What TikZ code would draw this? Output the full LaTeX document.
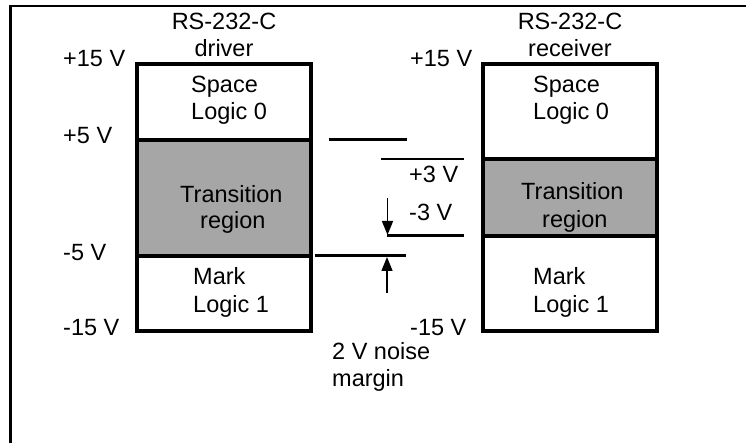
\documentclass[tikz,border=0pt]{standalone}
\usepackage{fontspec}
\setmainfont{Liberation Sans}
\usetikzlibrary{arrows.meta}
\begin{document}
\begin{tikzpicture}[x=1pt,y=-1pt,
  lbl/.style={anchor=base west, inner sep=0pt, font=\fontsize{23.5}{28}\selectfont},
  clbl/.style={anchor=base, inner sep=0pt, font=\fontsize{23.5}{28}\selectfont},
  zone/.style={draw, line width=4pt, minimum width=174pt, inner sep=0pt, outer sep=0pt, anchor=center},
  trans/.style={zone, fill=black!35},
  level/.style={line width=3pt},
  thinlevel/.style={line width=2pt},
  arr/.style={line width=1.5pt, -{Triangle[length=14pt,width=11pt]}},
  frame/.style={line width=2.5pt}]
\useasboundingbox (0,0) rectangle (747,443);
% frame
\coordinate (fbl) at (10.5,443);
\coordinate (ftl) at (10.5,6);
\coordinate (ftr) at (746,6);
\draw[frame] (fbl) -- (ftl) -- (ftr);
% driver box
\node[zone, minimum height=76pt] (dspace) at (224,102) {};
\node[trans, minimum height=116pt] (dtrans) at (224,198) {};
\node[zone, minimum height=75pt] (dmark) at (224,293.5) {};
% receiver box
\node[zone, minimum height=95.5pt] (rspace) at (570,111.75) {};
\node[trans, minimum height=77pt] (rtrans) at (570,198) {};
\node[zone, minimum height=94.5pt] (rmark) at (570,283.75) {};
% headings
\node[clbl] (dh1) at (224,30) {RS-232-C};
\node[clbl] (dh2) at (224,57) {driver};
\node[clbl] (rh1) at (570,30) {RS-232-C};
\node[clbl] (rh2) at (570,57) {receiver};
% voltage labels driver
\node[lbl] (v15) at (63,67) {+15 V};
\node[lbl] (v5) at (63,144) {+5 V};
\node[lbl] (vm5) at (63,261) {-5 V};
\node[lbl] (vm15) at (63,336) {-15 V};
% voltage labels receiver
\node[lbl] (r15) at (410,67) {+15 V};
\node[lbl] (rm15) at (410,336) {-15 V};
\node[lbl] (r3) at (409,183) {+3 V};
\node[lbl] (rm3) at (409,221) {-3 V};
% box texts driver
\node[lbl] (dt1) at (191,93) {Space};
\node[lbl] (dt2) at (191,120) {Logic 0};
\node[lbl] (dt3) at (180,203) {Transition};
\node[lbl] (dt4) at (200,229) {region};
\node[lbl] (dt5) at (193,285) {Mark};
\node[lbl] (dt6) at (193,313) {Logic 1};
% box texts receiver
\node[lbl] (rt1) at (533,93) {Space};
\node[lbl] (rt2) at (533,120) {Logic 0};
\node[lbl] (rt3) at (521,200) {Transition};
\node[lbl] (rt4) at (542,228) {region};
\node[lbl] (rt5) at (533,285) {Mark};
\node[lbl] (rt6) at (533,313) {Logic 1};
% noise margin
\node[lbl] (nm1) at (332,360) {2 V noise};
\node[lbl] (nm2) at (332,387) {margin};
% level lines
\coordinate (p5a) at (329,140);
\coordinate (p5b) at (407,140);
\coordinate (p3a) at (381,159);
\coordinate (p3b) at (464,159);
\coordinate (m3a) at (387,236);
\coordinate (m3b) at (464,236);
\coordinate (m5a) at (315,256);
\coordinate (m5b) at (406,256);
\draw[level] (p5a) -- (p5b);
\draw[thinlevel] (p3a) -- (p3b);
\draw[level] (m3a) -- (m3b);
\draw[level] (m5a) -- (m5b);
% arrows
\coordinate (dtop) at (387.5,198);
\coordinate (dtip) at (387.5,235);
\coordinate (ubot) at (387,293);
\coordinate (utip) at (387,257);
\draw[arr] (dtop) -- (dtip);
\draw[arr] (ubot) -- (utip);
\end{tikzpicture}
\end{document}
